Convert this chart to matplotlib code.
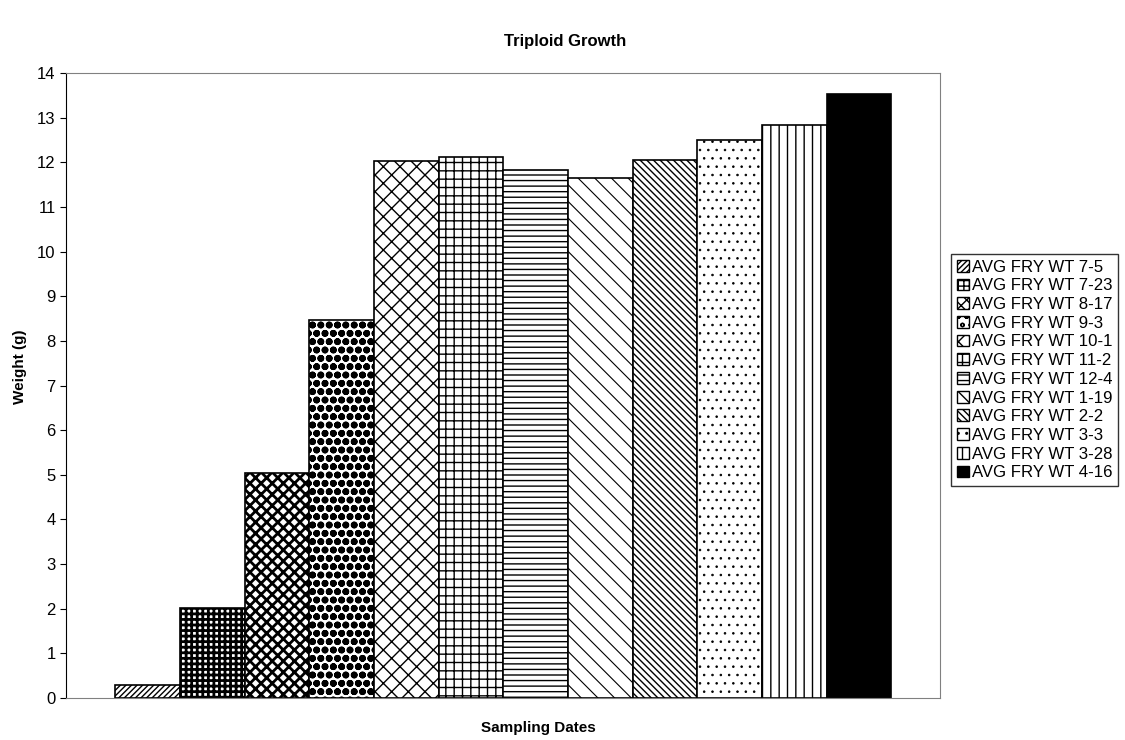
import numpy as np
import matplotlib.pyplot as plt
from matplotlib.patches import Patch

plt.rcParams['font.family'] = ['Liberation Sans', 'DejaVu Sans']

labels = ['AVG FRY WT 7-5', 'AVG FRY WT 7-23', 'AVG FRY WT 8-17', 'AVG FRY WT 9-3',
          'AVG FRY WT 10-1', 'AVG FRY WT 11-2', 'AVG FRY WT 12-4', 'AVG FRY WT 1-19',
          'AVG FRY WT 2-2', 'AVG FRY WT 3-3', 'AVG FRY WT 3-28', 'AVG FRY WT 4-16']
weights = [0.3, 2.02, 5.03, 8.47, 12.04, 12.12, 11.82, 11.65, 12.05, 12.5, 12.84, 13.53]

hatches = ['//////', '+++', 'xxx', 'oo', 'xx', '++', '---', '\\\\', '\\\\\\\\\\', '..', '||', None]
hatch_lw = [1.0, 2.0, 2.0, 2.5, 1.0, 1.0, 1.0, 0.8, 1.0, 0.6, 1.0, 1.0]
faces = ['white'] * 11 + ['black']

fig = plt.figure(figsize=(11.25, 7.4), dpi=100)
ax = fig.add_axes([66 / 1125, 42 / 740, (940 - 66) / 1125, (698 - 73) / 740])

x = np.arange(len(weights))
handles = []
for i, (w, h, fc, lab) in enumerate(zip(weights, hatches, faces, labels)):
    b = ax.bar(x[i], w, width=1.0, color=fc, edgecolor='black', linewidth=1.2, hatch=h)
    for p in b:
        p.set_hatch_linewidth(hatch_lw[i])
    hp = Patch(facecolor=fc, edgecolor='black', hatch=h, label=lab)
    hp.set_hatch_linewidth(min(hatch_lw[i], 2.0))
    handles.append(hp)

ax.set_xlim(-1.26, 12.25)
ax.set_ylim(0, 14)
ax.set_yticks(range(0, 15))
ax.set_xticks([])
ax.tick_params(axis='y', labelsize=12, length=4, direction='out')
for s in ['top', 'right', 'bottom']:
    ax.spines[s].set_color('#808080')
ax.spines['left'].set_color('black')

ax.set_ylabel('Weight (g)', fontsize=11, fontweight='bold')
ax.yaxis.set_label_coords(-0.045, 0.53)
ax.set_xlabel('Sampling Dates', fontsize=11, fontweight='bold')
ax.xaxis.set_label_coords(0.541, -0.037)
fig.text(0.502, 0.938, 'Triploid Growth', ha='center', fontsize=12, fontweight='bold')

leg = fig.legend(handles=handles, loc='center left', bbox_to_anchor=(951 / 1125, 1 - 370 / 740),
                 fontsize=12.1, frameon=True, fancybox=False, edgecolor='black',
                 handlelength=0.7, handleheight=0.7, handletextpad=0.2, labelspacing=0.22,
                 borderpad=0.35, borderaxespad=0)
leg.get_frame().set_linewidth(1.0)

fig.savefig('out.png', dpi=100)
